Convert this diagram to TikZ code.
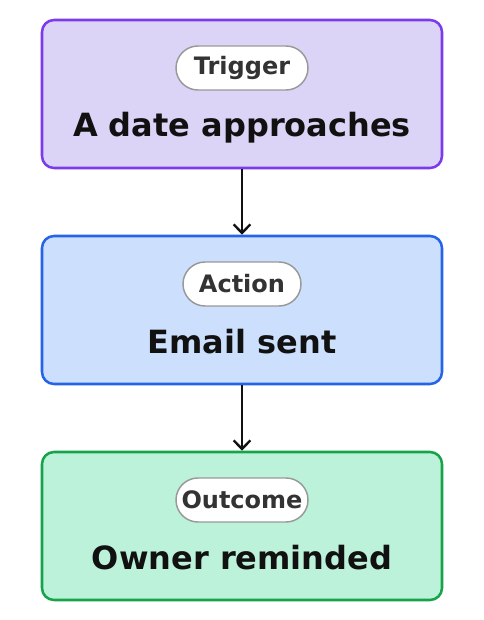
\documentclass[tikz,border=0pt]{standalone}
\usepackage{fontspec}
\setmainfont{DejaVu Sans}
\usetikzlibrary{arrows.meta}
\definecolor{pborder}{HTML}{7C3AED}
\definecolor{pfill}{HTML}{DCD4F7}
\definecolor{bborder}{HTML}{2563EB}
\definecolor{bfill}{HTML}{CCE0FD}
\definecolor{gborder}{HTML}{16A34A}
\definecolor{gfill}{HTML}{BBF2D9}
\definecolor{pilltext}{HTML}{333333}
\definecolor{pillborder}{HTML}{999999}
\definecolor{maintext}{HTML}{111111}
\tikzset{
  stagebox/.style={draw, line width=1.9pt, rounded corners=9pt, minimum width=300pt, minimum height=111pt, inner sep=0pt},
  pill/.style={draw=pillborder, fill=white, line width=1.1pt, rounded corners=16.5pt, minimum height=33pt, inner xsep=1pt, inner ysep=0pt, text=pilltext, font=\bfseries\fontsize{18pt}{21pt}\selectfont},
  title/.style={anchor=base, text=maintext, inner sep=0pt, font=\bfseries\fontsize{24pt}{28pt}\selectfont},
  arr/.style={draw=maintext, line width=1.8pt, -{Straight Barb[length=6.5pt,width=12.5pt]}}
}
\begin{document}
\begin{tikzpicture}[x=0.75pt,y=-0.75pt]
\useasboundingbox (0,0) rectangle (484,620);
\fill[white] (0,0) rectangle (484,620);
% box 1
\node[stagebox, draw=pborder, fill=pfill] (b1) at (242,94) {};
\node[pill, minimum width=99pt] (p1) at (242,68) {Trigger};
\node[title] (t1) at (242,137) {A date approaches};
% box 2
\node[stagebox, draw=bborder, fill=bfill] (b2) at (242,310) {};
\node[pill, minimum width=88.5pt] (p2) at (242,284) {Action};
\node[title] (t2) at (242,353) {Email sent};
% box 3
\node[stagebox, draw=gborder, fill=gfill] (b3) at (242,526) {};
\node[pill, minimum width=99pt] (p3) at (242,500) {Outcome};
\node[title] (t3) at (242,569) {Owner reminded};
% arrows
\draw[arr] (b1.south) -- (b2.north);
\draw[arr] (b2.south) -- (b3.north);
\end{tikzpicture}
\end{document}
